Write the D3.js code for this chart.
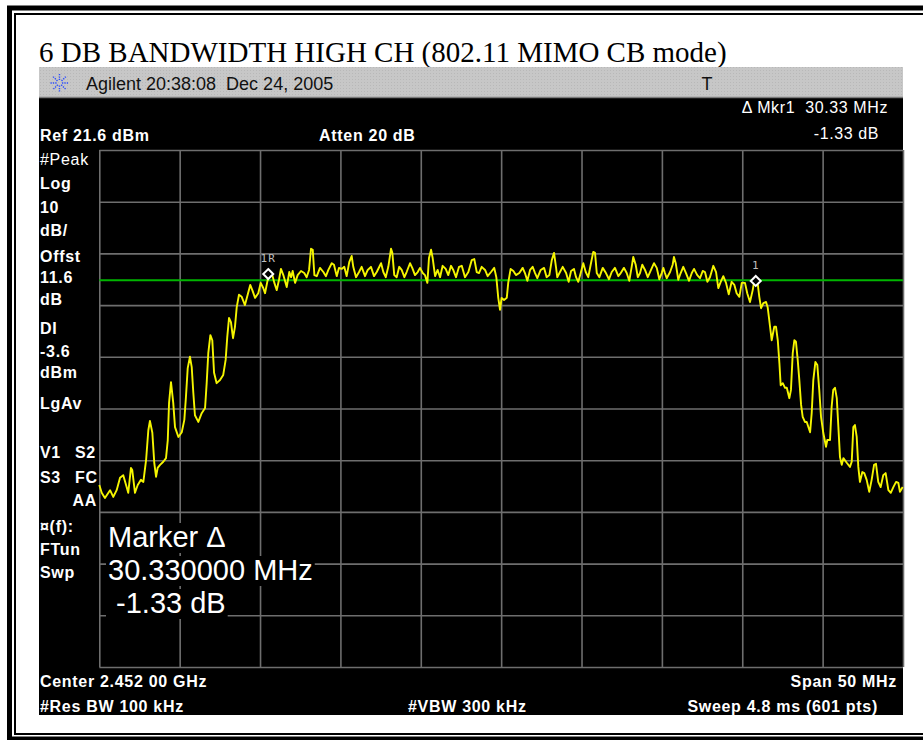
<!DOCTYPE html>
<html><head><meta charset="utf-8">
<script src="https://cdn.jsdelivr.net/npm/d3@7/dist/d3.min.js"></script>
<style>html,body{margin:0;padding:0;background:#fff;overflow:hidden}svg{display:block}</style>
</head><body>
<svg id="chart" width="923" height="740"></svg>
<script>
// ---------------- data ----------------
const titleText = "6 DB BANDWIDTH HIGH CH (802.11 MIMO CB mode)";
const headerText = "Agilent 20:38:08  Dec 24, 2005";
const freqMHz = [
2427.0,2427.15,2427.35,2427.67,2427.87,2428.08,2428.29,2428.49,2428.70,2428.80,2428.97,2429.05,2429.22,2429.39,2429.59,2429.74,2429.91,2430.05,2430.15,2430.30,2430.42,2430.53,2430.63,2430.78,2430.98,2431.15,2431.26,2431.34,2431.46,2431.60,2431.71,2431.92,2432.13,2432.29,2432.39,2432.50,2432.64,2432.75,2432.85,2432.95,2433.16,2433.37,2433.58,2433.68,2433.78,2433.91,2434.03,2434.14,2434.30,2434.51,2434.71,2434.86,2434.96,2435.07,2435.19,2435.32,2435.44,2435.55,2435.69,2435.86,2436.06,2436.23,2436.39,2436.52,2436.69,2436.89,2437.04,2437.20,
2437.31,2437.51,2437.73,2437.89,2438.04,2438.18,2438.30,2438.45,2438.66,2438.82,2438.93,2439.03,2439.18,2439.34,2439.55,2439.75,2439.90,2440.05,2440.17,2440.28,2440.38,2440.53,2440.73,2440.94,2441.10,2441.25,2441.46,2441.60,2441.77,2441.91,2442.08,2442.24,2442.39,2442.55,2442.70,2442.80,2442.97,2443.16,2443.32,2443.53,2443.70,2443.90,2444.09,2444.26,2444.53,2444.67,2444.82,2444.98,2445.15,2445.23,2445.35,2445.50,2445.66,2445.81,2445.98,2446.12,2446.33,2446.47,2446.64,2446.81,2446.95,2447.12,2447.26,2447.41,2447.51,2447.64,2447.74,2447.89,2448.05,2448.20,2448.36,2448.55,2448.71,2448.88,2449.02,2449.19,2449.38,2449.55,2449.75,2449.96,2450.17,2450.33,2450.48,2450.62,2450.79,2451.00,2451.16,2451.37,2451.57,2451.70,2451.82,2451.93,2452.03,
2452.18,2452.35,2452.44,2452.59,2452.76,2452.92,2453.13,2453.34,2453.48,2453.63,2453.80,2453.96,2454.11,2454.25,2454.46,2454.67,2454.83,2455.00,2455.15,2455.29,2455.41,2455.49,2455.66,2455.83,2456.04,2456.20,2456.35,2456.53,2456.66,2456.80,2456.95,2457.11,2457.26,2457.42,2457.57,2457.73,2457.84,2457.95,2458.11,2458.32,2458.52,2458.71,2458.88,2459.08,2459.29,2459.44,2459.64,2459.81,2459.97,2460.12,2460.22,2460.37,2460.50,2460.64,2460.78,2460.95,2461.12,2461.26,2461.51,2461.68,2461.84,2461.99,2462.09,2462.19,2462.30,2462.51,2462.67,2462.75,2462.86,2463.02,2463.17,2463.33,2463.50,2463.69,2463.86,2464.00,2464.20,2464.37,2464.54,2464.68,2464.83,2464.99,2465.20,2465.37,2465.51,2465.66,2465.82,2465.99,2466.16,2466.34,2466.51,2466.65,2466.82,2466.97,2467.17,2467.31,2467.48,2467.65,2467.79,2467.94,2468.06,2468.17,2468.31,2468.48,2468.58,2468.68,2468.83,2468.99,2469.10,2469.21,2469.31,2469.39,2469.52,2469.66,2469.77,2469.93,2470.03,2470.14,2470.24,2470.34,2470.45,2470.55,2470.66,2470.76,2470.90,2471.01,2471.22,2471.32,2471.42,2471.55,2471.67,2471.79,2471.90,2472.04,2472.21,2472.29,2472.46,2472.56,2472.66,2472.77,2472.88,2472.98,2473.08,2473.19,2473.29,2473.50,2473.70,2473.81,2473.91,2474.01,2474.12,2474.22,2474.32,2474.47,2474.59,2474.74,2474.90,2475.05,2475.20,2475.32,2475.46,2475.61,2475.77,2475.92,2476.09,2476.24,2476.40,2476.57,2476.71,2476.81,2476.98];
const levelDbm = [
-43.2,-44.7,-45.7,-44.2,-45.5,-44.2,-41.8,-41.3,-43.6,-44.7,-39.9,-40.3,-44.7,-43.2,-42.2,-42.6,-38.4,-32.6,-30.8,-33.1,-38.9,-41.6,-39.9,-39.3,-38.7,-38.0,-34.5,-27.3,-23.3,-27.3,-32.0,-33.9,-33.0,-30.6,-26.2,-20.6,-18.4,-20.4,-25.4,-29.7,-31.0,-29.3,-28.3,-23.5,-17.7,-14.2,-15.2,-21.5,-23.5,-22.9,-21.9,-19.0,-14.6,-10.9,-11.7,-14.8,-12.6,-8.8,-6.4,-6.8,-8.4,-6.4,-4.5,-5.5,-7.0,-6.1,-4.1,-5.1,
-6.1,-3.0,-2.2,-4.1,-5.5,-3.5,-1.4,-2.6,-4.9,-2.0,-3.0,-1.8,-4.1,-2.6,-1.8,-2.2,-3.0,-1.6,2.5,2.3,-2.6,-2.8,-1.2,-2.0,-2.8,-1.6,-0.3,-0.6,-2.8,-1.2,-1.4,-1.0,-2.8,-0.1,1.1,-1.0,-3.0,-2.0,-1.0,-2.8,-1.6,-1.0,-2.8,-2.0,-0.3,-2.0,-3.0,-1.0,2.5,1.7,-2.6,-3.0,-1.0,-1.6,-3.0,-2.0,-0.3,-1.2,-2.6,-2.0,-1.2,-2.2,-2.6,-4.1,0.7,2.3,0.7,-2.8,-1.6,-3.0,-0.8,-1.4,-2.6,-0.8,-1.6,-3.0,-1.0,-0.8,-3.0,-2.0,0.3,0.5,-2.0,-2.2,-1.0,-1.6,-2.8,-2.0,-1.2,-3.0,-7.0,-9.3,-7.0,
-7.4,-7.0,-4.1,-1.4,-1.8,-2.6,-2.2,-1.2,-2.2,-3.7,-1.6,-1.0,-2.2,-3.2,-1.6,-1.2,-3.0,-2.6,0.3,1.7,-1.0,-3.0,-2.0,-1.0,-2.2,-3.9,-1.8,-1.4,-3.0,-3.9,-2.2,-0.3,-2.0,-3.0,-0.6,1.9,1.7,-2.2,-3.0,-1.2,-2.2,-3.4,-2.0,-1.2,-2.8,-2.2,-1.2,-2.2,-3.7,-1.0,0.9,-0.6,-3.0,-2.2,-0.6,-1.6,-3.0,-2.0,-0.3,-1.2,-3.4,-2.2,-1.2,-2.2,-3.2,-2.0,-0.6,0.9,-0.3,-3.5,-2.2,-1.0,-2.2,-3.7,-2.2,-1.4,-2.6,-3.2,-1.8,-2.0,-3.9,-3.0,-0.8,-2.0,-5.1,-3.9,-2.8,-4.1,-6.3,-3.9,-4.5,-6.1,-6.8,-4.1,-4.1,-6.1,-7.8,-5.5,-3.0,-3.7,-6.8,-9.0,-8.0,-7.8,-8.8,-11.3,-15.2,-12.6,-12.6,-15.2,-19.6,-23.9,-23.5,-24.4,-24.4,-26.4,-24.8,-17.7,-15.2,-15.5,-19.0,-22.9,-27.7,-30.0,-31.0,-31.0,-33.0,-29.3,-22.9,-19.4,-20.0,-24.8,-30.0,-33.1,-35.8,-34.5,-34.5,-28.1,-24.8,-24.4,-26.4,-32.0,-37.8,-39.3,-38.0,-38.9,-39.7,-38.7,-32.0,-31.6,-33.9,-39.7,-42.6,-40.7,-40.9,-42.2,-44.5,-42.2,-39.3,-39.1,-42.6,-43.6,-41.3,-40.9,-44.2,-44.7,-43.6,-42.6,-42.8,-44.5,-43.6];
const xGridMHz = [2427,2432,2437,2442,2447,2452,2457,2462,2467,2472,2477];
const yGridDbm = [21.6,11.6,1.6,-8.4,-18.4,-28.4,-38.4,-48.4,-58.4,-68.4,-78.4];
const displayLineDbm = -3.6;
const markerFreqMHz = [2437.51, 2467.84];
const markerLevelDbm = [-2.4, -3.73];
const markerLabels = ["1R", "1"];
const leftLabels = ["#Peak","Log","10","dB/","Offst","11.6","dB","DI","-3.6","dBm","LgAv"];
const leftLabels2 = ["V1","S3","¤(f):","FTun","Swp"];
const leftLabels2b = ["S2","FC"];
const markerReadout = ["Marker \u0394", "30.330000 MHz", " -1.33 dB"];
const topRight = ["\u0394 Mkr1  30.33 MHz", "-1.33 dB"];
const bottomLeft = ["Center 2.452 00 GHz", "#Res BW 100 kHz"];

// ---------------- drawing ----------------
const svg = d3.select("#chart");
const SANS = "'Liberation Sans', Arial, sans-serif";
const defs = svg.append("defs");
const pat = defs.append("pattern").attr("id","dots").attr("width",3).attr("height",3).attr("patternUnits","userSpaceOnUse");
pat.append("rect").attr("width",3).attr("height",3).attr("fill","#c7c7c7");
pat.append("rect").attr("x",1).attr("y",1).attr("width",1).attr("height",1).attr("fill","#b8b8b8");

// page frame (double line)
svg.append("rect").attr("x",9.5).attr("y",8).attr("width",940).attr("height",731).attr("fill","none").attr("stroke","#000").attr("stroke-width",5);
svg.append("rect").attr("x",15).attr("y",14).attr("width",940).attr("height",720).attr("fill","none").attr("stroke","#000").attr("stroke-width",2);

// title
svg.append("text").attr("x",39).attr("y",62).attr("font-family","'Liberation Serif','Times New Roman',serif")
  .attr("font-size",29).attr("fill","#000").text(titleText);

// analyzer screen
svg.append("rect").attr("x",39).attr("y",98).attr("width",864).attr("height",617).attr("fill","#000");
svg.append("rect").attr("x",39).attr("y",67).attr("width",864).attr("height",31).attr("fill","url(#dots)");
svg.append("line").attr("x1",39).attr("x2",903).attr("y1",97.5).attr("y2",97.5).attr("stroke","#7a7a7a").attr("stroke-width",1.5);

// Agilent star logo
const star = svg.append("g").attr("transform","translate(59.5,83)");
[0,45,90,135].forEach(a=>{
  star.append("line").attr("x1",-9).attr("x2",-2.5).attr("y1",0).attr("y2",0).attr("transform",`rotate(${a})`)
    .attr("stroke","#2b4cff").attr("stroke-width",1.4).attr("stroke-dasharray","1.3,1.1");
  star.append("line").attr("x1",2.5).attr("x2",9).attr("y1",0).attr("y2",0).attr("transform",`rotate(${a})`)
    .attr("stroke","#2b4cff").attr("stroke-width",1.4).attr("stroke-dasharray","1.3,1.1");
});
svg.append("text").attr("x",86).attr("y",90).attr("font-family",SANS).attr("font-size",18).attr("fill","#111")
  .style("white-space","pre").text(headerText);
svg.append("text").attr("x",707).attr("y",90).attr("font-family",SANS).attr("font-size",18).attr("fill","#111").attr("text-anchor","middle").text("T");

// scales
const x = d3.scaleLinear().domain([2427, 2477]).range([99.3, 903]);
const y = d3.scaleLinear().domain([-78.4, 21.6]).range([667, 150]);

// graticule via axes
const gridColor = "#6e6e6e";
const gx = svg.append("g").attr("transform",`translate(0,${y(-78.4)})`)
  .call(d3.axisBottom(x).tickValues(xGridMHz).tickSize(-(y(-78.4)-y(21.6))).tickFormat(""));
const gy = svg.append("g").attr("transform",`translate(${x(2427)},0)`)
  .call(d3.axisLeft(y).tickValues(yGridDbm).tickSize(-(x(2477)-x(2427))).tickFormat(""));
[gx,gy].forEach(g=>{
  g.select(".domain").remove();
  g.selectAll(".tick line").attr("stroke",gridColor).attr("stroke-width",1.6);
});

// status text
function t(str, xx, yy, opt={}) {
  return svg.append("text").attr("x",xx).attr("y",yy).attr("font-family",SANS)
    .attr("font-size",opt.size||16).attr("font-weight",opt.weight||"bold")
    .attr("letter-spacing",opt.ls!==undefined?opt.ls:0.7)
    .attr("text-anchor",opt.anchor||"start").attr("fill",opt.fill||"#fff")
    .style("white-space","pre").text(str);
}
t("Ref 21.6 dBm", 40, 141);
t("Atten 20 dB", 319, 141);
t(topRight[0], 888, 113, {weight:"normal", ls:0.6, anchor:"end"});
t(topRight[1], 879, 139, {weight:"normal", ls:0.6, anchor:"end"});

const leftY = [165,189,213,236,261.5,283,305,334,356.5,378,408.5];
leftLabels.forEach((s,i)=> t(s, 40, leftY[i], {weight: i===0?"normal":"bold"}));
const left2Y = [458,482.5,531.5,555,578];
leftLabels2.forEach((s,i)=> t(s, 40, left2Y[i]));
leftLabels2b.forEach((s,i)=> t(s, 75, left2Y[i]));
t("AA", 97, 506, {anchor:"end"});

t(bottomLeft[0], 40, 687);
t(bottomLeft[1], 40, 712);
t("Span 50 MHz", 897, 687, {anchor:"end"});
t("#VBW 300 kHz", 408, 712);
t("Sweep 4.8 ms (601 pts)", 878, 712, {anchor:"end"});

// marker readout block (with black backgrounds)
const readY = [547, 580, 613];
const readX = [108, 108, 108];
markerReadout.forEach((s,i)=>{
  const tx = t(s, readX[i], readY[i], {weight:"normal", size:29, ls:0});
  const bb = tx.node().getBBox();
  svg.insert("rect", function(){return tx.node();})
    .attr("x", bb.x-2).attr("y", bb.y+2).attr("width", bb.width+4).attr("height", bb.height-2).attr("fill","#000");
});

// display line
svg.append("line").attr("x1",x(2427)).attr("x2",x(2477)).attr("y1",y(displayLineDbm)).attr("y2",y(displayLineDbm))
  .attr("stroke","#00b400").attr("stroke-width",2);

// trace
const pts = freqMHz.map((f,i)=>[f, levelDbm[i]]).filter(d=>d[1]!==undefined);
const line = d3.line().x(d=>x(d[0])).y(d=>y(d[1]));
svg.append("path").datum(pts).attr("d",line).attr("fill","none").attr("stroke","#f5f500").attr("stroke-width",1.9)
  .attr("stroke-linejoin","round");

// markers
markerFreqMHz.forEach((f,i)=>{
  const mx = x(f), my = y(markerLevelDbm[i]);
  svg.append("path").attr("d",`M${mx},${my-5}L${mx+5},${my}L${mx},${my+5}L${mx-5},${my}Z`)
    .attr("fill","#000").attr("stroke","#fff").attr("stroke-width",2);
  svg.append("text").attr("x",mx).attr("y",my-12).attr("text-anchor","middle").attr("font-family","'DejaVu Sans Mono',monospace")
    .attr("font-size",11).attr("letter-spacing",1).attr("fill","#bdbdbd").text(markerLabels[i]);
});
</script>
</body></html>
